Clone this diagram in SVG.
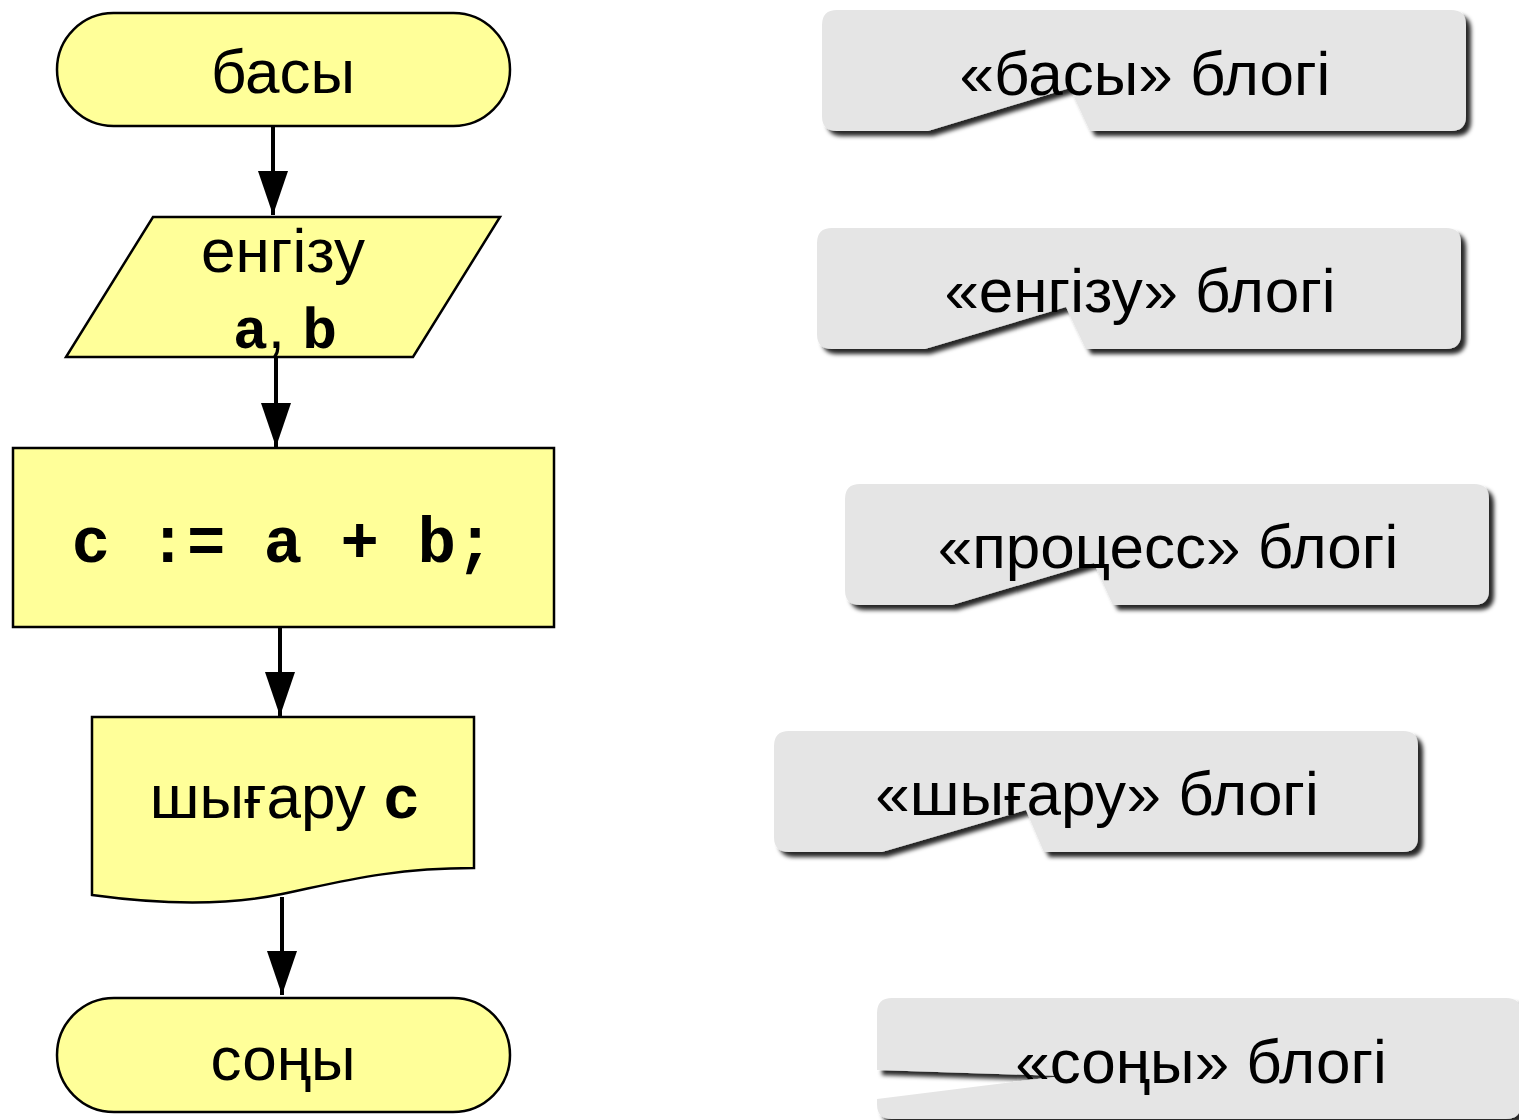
<svg xmlns="http://www.w3.org/2000/svg" width="1519" height="1120" viewBox="0 0 1519 1120">
<defs>
<style>
.node{fill:#ffff99;stroke:#000;stroke-width:2.5}
.sans{font-family:"Liberation Sans",Arial,sans-serif;font-size:62px;fill:#000}
.mono{font-family:"Liberation Mono","Courier New",monospace;font-weight:bold;fill:#000}
.conn{stroke:#000;stroke-width:4;fill:none}
.callout{fill:#e5e5e5;filter:url(#shadow)}
</style>
<filter id="shadow" x="-5%" y="-10%" width="115%" height="130%">
<feDropShadow dx="5" dy="5" stdDeviation="2.2" flood-color="#000" flood-opacity="0.85"/>
</filter>
<marker id="arrow" viewBox="0 -15 44 30" refX="44" refY="0" markerWidth="44" markerHeight="30" markerUnits="userSpaceOnUse" orient="auto">
<path d="M0,-15 L44,0 L0,15 Z" fill="#000"/>
</marker>
</defs>
<rect width="1519" height="1120" fill="#fff"/>

<g id="connectors">
<line class="conn" x1="273" y1="127" x2="273" y2="215" marker-end="url(#arrow)"/>
<line class="conn" x1="276" y1="357" x2="276" y2="447" marker-end="url(#arrow)"/>
<line class="conn" x1="280" y1="627" x2="280" y2="716" marker-end="url(#arrow)"/>
<line class="conn" x1="282" y1="897" x2="282" y2="995" marker-end="url(#arrow)"/>
</g>

<g id="start">
<rect class="node" x="57" y="13" width="453" height="113" rx="56.5" ry="56.5"/>
<text class="sans" x="283" y="93" text-anchor="middle">басы</text>
</g>

<g id="input">
<polygon class="node" points="153,217 500,217 413,357 66,357"/>
<text class="sans" x="283" y="272" text-anchor="middle">енгізу</text>
<text x="285" y="348" text-anchor="middle"><tspan class="mono" font-size="58">a</tspan><tspan class="sans" font-size="52">, </tspan><tspan class="mono" font-size="58">b</tspan></text>
</g>

<g id="process">
<rect class="node" x="13" y="448" width="541" height="179"/>
<text class="mono" x="283" y="562" font-size="64" text-anchor="middle" xml:space="preserve">c := a + b;</text>
</g>

<g id="output">
<path class="node" d="M92,717 H474 V868 C390,868 340,882 282,894 C220,907 150,903 92,895 Z"/>
<text x="285" y="818" text-anchor="middle"><tspan class="sans">шығару </tspan><tspan class="mono" font-size="62">c</tspan></text>
</g>

<g id="end">
<rect class="node" x="57" y="998" width="453" height="114" rx="57" ry="57"/>
<text class="sans" x="283" y="1080" text-anchor="middle">соңы</text>
</g>

<g id="callout-start">
<path class="callout" d="M837,10 H1451 Q1466,10 1466,25 V116 Q1466,131 1451,131 H1090 L1070,88 L928,131 H837 Q822,131 822,116 V25 Q822,10 837,10 Z"/>
<text class="sans" x="1145" y="95" text-anchor="middle" font-size="63">«басы» блогі</text>
</g>

<g id="callout-input">
<path class="callout" d="M832,228 H1446 Q1461,228 1461,243 V334 Q1461,349 1446,349 H1086 L1066,307 L925,349 H832 Q817,349 817,334 V243 Q817,228 832,228 Z"/>
<text class="sans" x="1140" y="312" text-anchor="middle" font-size="63">«енгізу» блогі</text>
</g>

<g id="callout-process">
<path class="callout" d="M860,484 H1474 Q1489,484 1489,499 V590 Q1489,605 1474,605 H1113 L1094,563 L952,605 H860 Q845,605 845,590 V499 Q845,484 860,484 Z"/>
<text class="sans" x="1168" y="568" text-anchor="middle" font-size="63">«процесс» блогі</text>
</g>

<g id="callout-output">
<path class="callout" d="M789,731 H1403 Q1418,731 1418,746 V837 Q1418,852 1403,852 H1044 L1026,810 L882,852 H789 Q774,852 774,837 V746 Q774,731 789,731 Z"/>
<text class="sans" x="1097" y="815" text-anchor="middle" font-size="63">«шығару» блогі</text>
</g>

<g id="callout-end">
<path class="callout" d="M892,998 H1506 Q1521,998 1521,1013 V1104 Q1521,1119 1506,1119 H892 Q877,1119 877,1104 V1099 L1062,1076 L877,1070 V1013 Q877,998 892,998 Z"/>
<text class="sans" x="1201" y="1083" text-anchor="middle" font-size="63">«соңы» блогі</text>
</g>
</svg>
